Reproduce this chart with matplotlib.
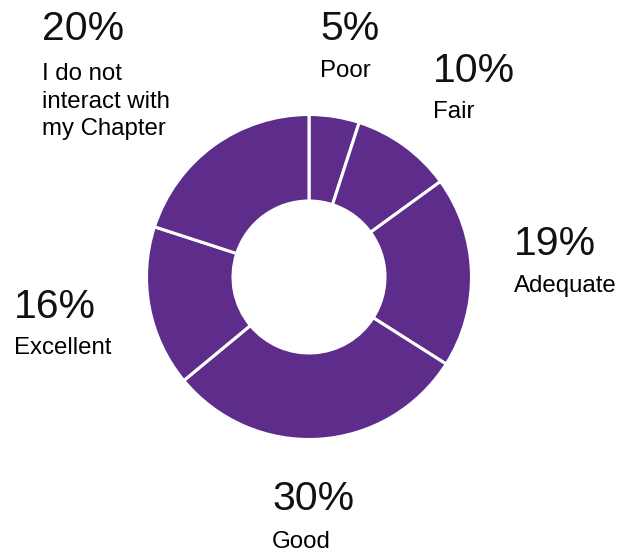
import matplotlib
matplotlib.use("Agg")
import matplotlib.pyplot as plt

# Survey responses (percent of respondents)
categories = ["Poor", "Fair", "Adequate", "Good", "Excellent",
              "I do not\ninteract with\nmy Chapter"]
values = [5, 10, 19, 30, 16, 20]
pct_labels = ["5%", "10%", "19%", "30%", "16%", "20%"]

W, H = 619, 554
fig = plt.figure(figsize=(W / 100, H / 100), dpi=100)
ax = fig.add_axes([0, 0, 1, 1])

purple = "#5E2D8B"
cx, cy = 309, H - 277
r_out, r_in = 162.5, 76

ax.pie(values, startangle=90, counterclock=False, center=(cx, cy),
       radius=r_out, colors=[purple] * len(values),
       wedgeprops=dict(width=r_out - r_in, edgecolor="white", linewidth=2.2),
       frame=True)
ax.set_xlim(0, W)
ax.set_ylim(0, H)
ax.set_aspect("equal")
ax.axis("off")

# label anchor points: (left x, percent baseline, name baseline) in pixels from top
anchors = {
    "Poor": (320, 40, 77),
    "Fair": (433, 82, 118),
    "Adequate": (514, 255, 292),
    "Good": (272, 510, 548),
    "Excellent": (14, 318, 354),
    "I do not\ninteract with\nmy Chapter": (42, 40, 80),
}

pct_font = dict(family=["Liberation Sans", "DejaVu Sans"], fontweight="normal", fontsize=29.5)
name_font = dict(family=["Liberation Sans", "DejaVu Sans"], fontsize=17.3)

for cat, pct in zip(categories, pct_labels):
    x, yp, yn = anchors[cat]
    ax.text(x, H - yp, pct, ha="left", va="baseline", color="#111111", **pct_font)
    lines = cat.split("\n")
    for i, line in enumerate(lines):
        ax.text(x, H - (yn + 27.5 * i), line, ha="left", va="baseline",
                color="#000000", **name_font)

fig.savefig("out.png", dpi=100)
